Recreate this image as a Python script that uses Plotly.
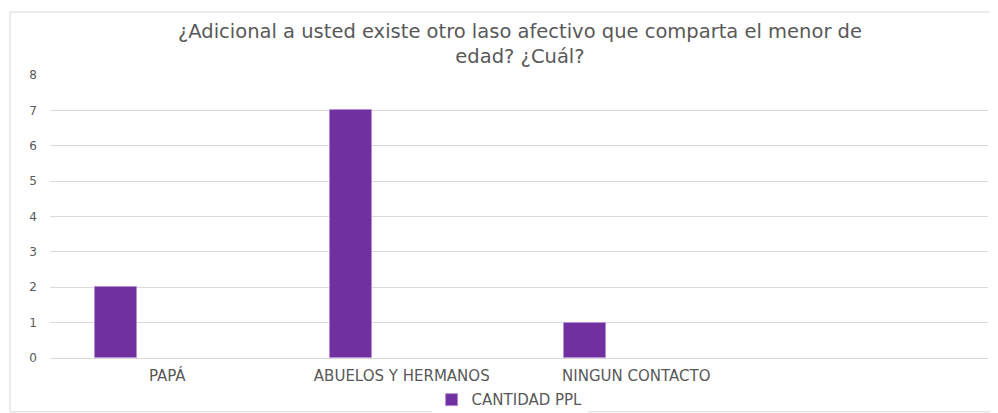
import plotly.graph_objects as go

categories = ["PAPÁ", "ABUELOS Y HERMANOS", "NINGUN CONTACTO", " "]
values = [2, 7, 1, None]
series_name = "CANTIDAD PPL"
title_text = "¿Adicional a usted existe otro laso afectivo que comparta el menor de<br>edad? ¿Cuál?"

font_family = "DejaVu Sans, Open Sans, sans-serif"
gray = "#595959"

fig = go.Figure()
fig.add_trace(go.Bar(
    x=categories, y=values, name=series_name,
    marker=dict(color="#7030A0", line=dict(color="#b58fd6", width=1)),
    width=0.179, offset=-0.307,
    showlegend=True,
))

fig.update_layout(
    width=998, height=413,
    margin=dict(l=42, r=18, t=67, b=63, autoexpand=False),
    paper_bgcolor="white", plot_bgcolor="white",
    title=dict(text=title_text, x=0.513, xanchor="center", y=0.927, yanchor="middle",
               font=dict(family=font_family, size=19.5, color=gray)),
    font=dict(family=font_family, color=gray),
    showlegend=True,
    legend=dict(orientation="h", x=0.490, xanchor="center", y=-0.148, yanchor="middle",
                font=dict(size=15, color=gray), itemwidth=30),
    bargap=0,
)
fig.update_xaxes(type="category", categoryorder="array", categoryarray=categories,
                 showgrid=False, showline=True, linecolor="#d9d9d9", linewidth=1,
                 ticks="", ticklabelstandoff=4, automargin=False,
                 tickfont=dict(size=15, color=gray), fixedrange=True)
fig.update_yaxes(range=[0, 8], dtick=1, showgrid=True, gridcolor="#d9d9d9", gridwidth=1,
                 zeroline=False, showline=False, ticks="", ticklabelstandoff=12, automargin=False,
                 tickfont=dict(size=12, color=gray), fixedrange=True)

fig.add_shape(type="rect", xref="paper", yref="paper",
              x0=-0.0426, x1=1.0053, y0=-0.19, y1=1.2226,
              line=dict(color="#d9d9d9", width=1), fillcolor="rgba(0,0,0,0)", layer="below")

fig.write_html("out.html")
